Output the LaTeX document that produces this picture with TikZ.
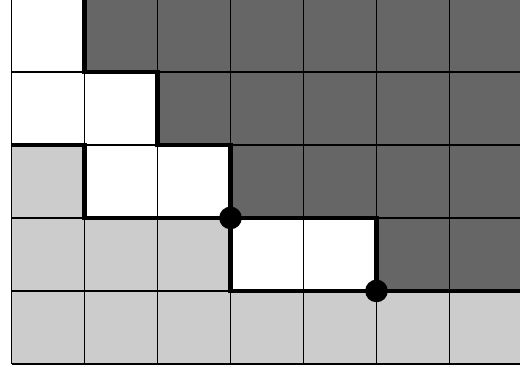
\documentclass[tikz,border=0pt]{standalone}
\definecolor{darkc}{HTML}{666666}
\definecolor{lightc}{HTML}{CCCCCC}
\tikzset{
  gridline/.style={line width=0.6pt, draw=black},
  boundary/.style={line width=1.7pt, draw=black, line join=miter},
  dot/.style={circle, fill=black, inner sep=0pt, minimum size=0.31cm},
}
\begin{document}
\begin{tikzpicture}
\useasboundingbox (-0.158,-0.055) rectangle (6.966,4.986);
\clip (-0.158,-0.055) rectangle (6.966,4.986);
% light region
\fill[lightc] (0,0) -- (7,0) -- (7,1) -- (3,1) -- (3,2) -- (1,2) -- (1,3) -- (0,3) -- cycle;
% dark region
\fill[darkc] (1,5) -- (7,5) -- (7,1) -- (5,1) -- (5,2) -- (3,2) -- (3,3) -- (2,3) -- (2,4) -- (1,4) -- cycle;
% grid
\draw[gridline] (0,0) grid (7.5,5);
% boundaries
\draw[boundary] (1,5) -- (1,4) -- (2,4) -- (2,3) -- (3,3) -- (3,2) -- (5,2) -- (5,1) -- (7.5,1);
\draw[boundary] (0,3) -- (1,3) -- (1,2) -- (3,2) -- (3,1) -- (5,1);
\node[dot] (d1) at (3,2) {};
\node[dot] (d2) at (5,1) {};
\end{tikzpicture}
\end{document}
